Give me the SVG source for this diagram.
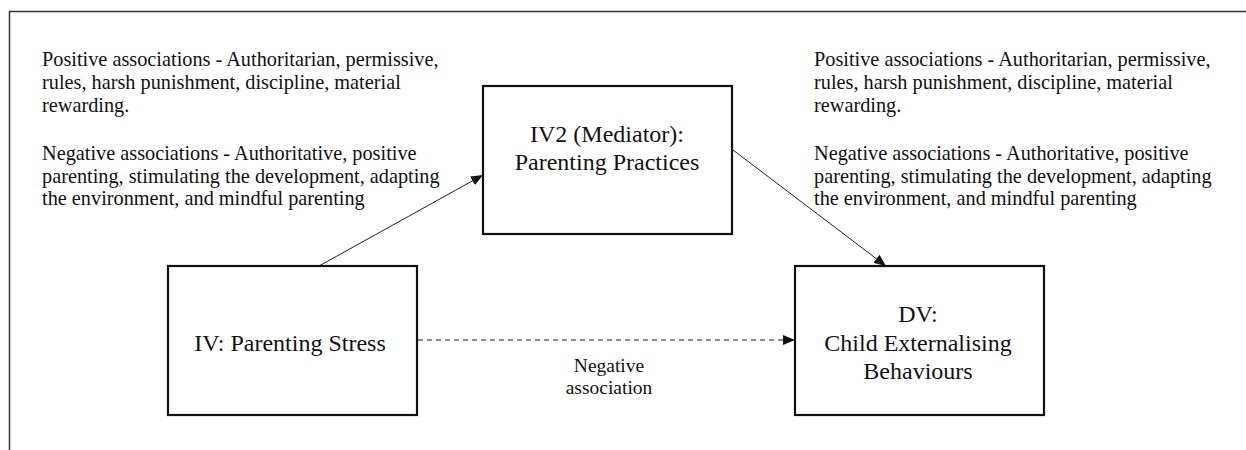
<svg xmlns="http://www.w3.org/2000/svg" width="1246" height="450" viewBox="0 0 1246 450">
<style>
text{fill:#111;font-family:"Liberation Serif","Times New Roman",serif}
.note{font-size:20.3px}
.node{font-size:24px;text-anchor:middle}
.lbl{font-size:19.5px;text-anchor:middle}
.box{fill:#fff;stroke:#111;stroke-width:2.2}
.con{stroke:#222;stroke-width:1;fill:none}
</style>
<defs>
<marker id="ah" viewBox="0 0 12 10" refX="12" refY="5" markerWidth="12" markerHeight="10" markerUnits="userSpaceOnUse" orient="auto">
<path d="M0,0 L12,5 L0,10 Z" fill="#111"/>
</marker>
</defs>
<rect width="1246" height="450" fill="#fff"/>
<path d="M9.5,450 V11.5 H1246" fill="none" stroke="#333" stroke-width="1.5"/>
<g id="note-left" class="note">
<text x="42" y="66">Positive associations - Authoritarian, permissive,</text>
<text x="42" y="89">rules, harsh punishment, discipline, material</text>
<text x="42" y="112">rewarding.</text>
<text x="42" y="160">Negative associations - Authoritative, positive</text>
<text x="42" y="183">parenting, stimulating the development, adapting</text>
<text x="42" y="205">the environment, and mindful parenting</text>
</g>
<g id="note-right" class="note">
<text x="814" y="66">Positive associations - Authoritarian, permissive,</text>
<text x="814" y="89">rules, harsh punishment, discipline, material</text>
<text x="814" y="112">rewarding.</text>
<text x="814" y="160">Negative associations - Authoritative, positive</text>
<text x="814" y="183">parenting, stimulating the development, adapting</text>
<text x="814" y="205">the environment, and mindful parenting</text>
</g>
<g id="connectors">
<line class="con" x1="319" y1="266" x2="483" y2="175" marker-end="url(#ah)"/>
<line class="con" x1="733" y1="150" x2="886" y2="266" marker-end="url(#ah)"/>
<line class="con" x1="418" y1="340" x2="795" y2="340" stroke-dasharray="5,4" marker-end="url(#ah)"/>
<g id="edge-label" class="lbl">
<text x="609" y="372">Negative</text>
<text x="609" y="394">association</text>
</g>
</g>
<g id="node-iv2">
<rect class="box" x="483" y="86" width="249" height="148"/>
<text class="node" x="607" y="142">IV2 (Mediator):</text>
<text class="node" x="607" y="170">Parenting Practices</text>
</g>
<g id="node-iv">
<rect class="box" x="168" y="266" width="249" height="149"/>
<text class="node" x="290" y="351">IV: Parenting Stress</text>
</g>
<g id="node-dv">
<rect class="box" x="795" y="266" width="249" height="149"/>
<text class="node" x="918" y="322">DV:</text>
<text class="node" x="918" y="351">Child Externalising</text>
<text class="node" x="918" y="379">Behaviours</text>
</g>
</svg>
